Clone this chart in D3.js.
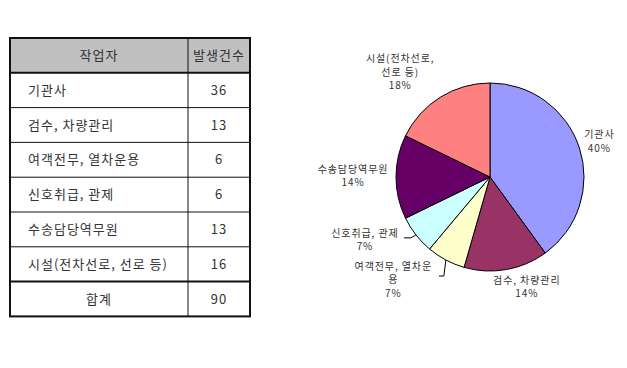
<!DOCTYPE html>
<html><head><meta charset="utf-8">
<script src="https://cdn.jsdelivr.net/npm/d3@7"></script>
<style>body{margin:0;background:#fff;}svg{display:block;}</style>
</head><body>
<svg id="c" width="627" height="368"></svg>
<script>
const categories = ["기관사", "검수, 차량관리", "여객전무, 열차운용", "신호취급, 관제", "수송담당역무원", "시설(전차선로, 선로 등)"];
const counts = [36, 13, 6, 6, 13, 16];
const headerLabels = ["작업자", "발생건수"];
const totalLabel = "합계";
const pieLabelLines = [["기관사"], ["검수, 차량관리"], ["여객전무, 열차운", "용"], ["신호취급, 관제"], ["수송담당역무원"], ["시설(전차선로,", "선로 등)"]];
const colors = ["#9999FF", "#993366", "#FFFFCC", "#CCFFFF", "#660066", "#FF8080"];

const svg = d3.select("#c");
const total = d3.sum(counts);

// ---- Table ----
const tX0 = 10, tX1 = 250, colX = 188, tY0 = 38, rowH = 34.8;
const nRows = categories.length + 2;
const yRow = d3.scaleLinear().domain([0, nRows]).range([tY0, tY0 + rowH * nRows]);
const tFont = "'Noto Sans CJK KR', sans-serif";
function tText(x, y, s, anchor) {
  return svg.append("text").attr("x", x).attr("y", y).attr("dy", "0.35em")
    .attr("text-anchor", anchor).attr("font-family", tFont).attr("font-size", 13)
    .attr("letter-spacing", 1).attr("fill", "#333").text(s);
}

svg.append("rect").attr("x", tX0).attr("y", yRow(0)).attr("width", tX1 - tX0).attr("height", yRow(1) - yRow(0)).attr("fill", "#c0c0c0");
tText((tX0 + colX) / 2, (yRow(0) + yRow(1)) / 2, headerLabels[0], "middle");
tText((colX + tX1) / 2, (yRow(0) + yRow(1)) / 2, headerLabels[1], "middle");
categories.forEach((c, i) => {
  const cy = (yRow(i + 1) + yRow(i + 2)) / 2;
  tText(28, cy, c, "start");
  tText((colX + tX1) / 2, cy, counts[i], "middle");
});
{
  const cy = (yRow(nRows - 1) + yRow(nRows)) / 2;
  tText((tX0 + colX) / 2, cy, totalLabel, "middle");
  tText((colX + tX1) / 2, cy, total, "middle");
}
for (let i = 1; i < nRows; i++) {
  const thick = (i === 1 || i === nRows - 1);
  svg.append("line").attr("x1", tX0).attr("x2", tX1).attr("y1", yRow(i)).attr("y2", yRow(i))
    .attr("stroke", "#111").attr("stroke-width", thick ? 2 : 1);
}
svg.append("line").attr("x1", colX).attr("x2", colX).attr("y1", yRow(0)).attr("y2", yRow(nRows)).attr("stroke", "#111").attr("stroke-width", 1);
svg.append("rect").attr("x", tX0).attr("y", yRow(0)).attr("width", tX1 - tX0).attr("height", yRow(nRows) - yRow(0))
  .attr("fill", "none").attr("stroke", "#111").attr("stroke-width", 2);

// ---- Pie ----
const cx = 490, cy = 177, R = 94;
const pie = d3.pie().sort(null).value(d => d)(counts);
const arc = d3.arc().innerRadius(0).outerRadius(R);
const g = svg.append("g").attr("transform", `translate(${cx},${cy})`);
g.selectAll("path").data(pie).join("path").attr("d", arc).attr("fill", (d, i) => colors[i])
  .attr("stroke", "#000").attr("stroke-width", 1);

// label placement (polar: degrees clockwise from top, radius)
const labelAngle = [72, 161.5, 223.3, 243.3, 270.5, 319.4];
const labelRadius = [115, 116, 141, 140, 137, 138];
const pFont = "'Noto Sans CJK KR', 'Noto Sans', sans-serif";
pie.forEach((d, i) => {
  const a = labelAngle[i] * Math.PI / 180;
  const lx = Math.sin(a) * labelRadius[i], ly = -Math.cos(a) * labelRadius[i];
  const lines = pieLabelLines[i].concat([Math.round(counts[i] / total * 100) + "%"]);
  const lh = 13.5;
  lines.forEach((s, k) => {
    g.append("text").attr("text-anchor", "middle").attr("font-family", pFont).attr("font-size", 10)
      .attr("letter-spacing", 0.9).attr("fill", "#333")
      .attr("x", lx).attr("y", ly + (k - (lines.length - 1) / 2) * lh).attr("dy", "0.35em").text(s);
  });
});
function leader(pts) {
  g.append("path").attr("d", d3.line()(pts)).attr("fill", "none").attr("stroke", "#000").attr("stroke-width", 1);
}
{
  const a2 = (pie[2].startAngle + pie[2].endAngle) / 2;
  const p = [Math.sin(a2) * R, -Math.cos(a2) * R];
  leader([p, [p[0] - 2, p[1] + 16], [p[0] - 7, p[1] + 16]]);
  const a3 = (pie[3].startAngle + pie[3].endAngle) / 2;
  const q = [Math.sin(a3) * R, -Math.cos(a3) * R];
  leader([q, [q[0] - 5, q[1] + 3], [q[0] - 12, q[1] + 3]]);
}
</script>
</body></html>
